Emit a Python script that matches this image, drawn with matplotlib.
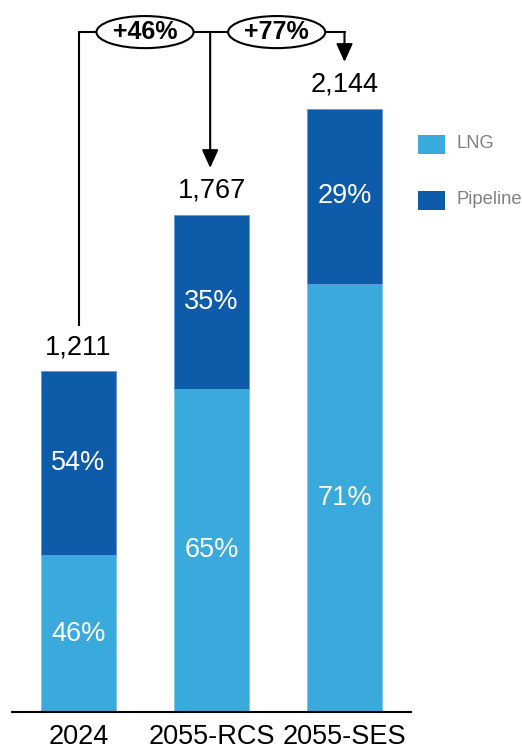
import matplotlib

matplotlib.use("Agg")
import matplotlib.pyplot as plt
from matplotlib.patches import Ellipse, Rectangle

plt.rcParams["font.family"] = ["Liberation Sans", "DejaVu Sans"]

CATEGORIES = ["2024", "2055-RCS", "2055-SES"]
TOTALS = [1211, 1767, 2144]
LNG_SHARE = [46, 65, 71]
PIPELINE_SHARE = [54, 35, 29]
GROWTH_LABELS = ["+46%", "+77%"]

LNG_COLOR = "#3AA9DC"
PIPE_COLOR = "#0D5BA9"


def main():
    fig = plt.figure(figsize=(5.22, 7.5), dpi=100)
    # axes spans the baseline; 1 data unit ~ 0.2813 px vertically
    ax = fig.add_axes([12 / 522, 38 / 750, 399 / 522, 712 / 750])
    ax.set_xlim(-0.5, 2.5)
    ax.set_ylim(0, 712 / 0.2813)

    xs = list(range(len(CATEGORIES)))
    lng = [t * s / 100 for t, s in zip(TOTALS, LNG_SHARE)]
    pipe = [t - l for t, l in zip(TOTALS, lng)]

    ax.bar(xs, lng, width=0.564, color=LNG_COLOR, edgecolor="#7FC3E8", linewidth=0.6)
    ax.bar(xs, pipe, bottom=lng, width=0.564, color=PIPE_COLOR, edgecolor="#5E9BD3", linewidth=0.6)

    for x, l, p, t, ls, ps in zip(xs, lng, pipe, TOTALS, LNG_SHARE, PIPELINE_SHARE):
        ax.text(x, l / 2, f"{ls}%", ha="center", va="center", color="white", fontsize=19.5)
        ax.text(x, l + p / 2, f"{ps}%", ha="center", va="center", color="white", fontsize=19.5)
        ax.text(x, t + 40, f"{t:,}", ha="center", va="bottom", color="black", fontsize=19.5)

    # growth brackets
    top = 2417
    ax.plot([xs[0], xs[0]], [TOTALS[0] + 161, top], color="black", lw=1.5,
            clip_on=False, solid_capstyle="butt")
    ax.plot([xs[0], xs[2]], [top, top], color="black", lw=1.5, clip_on=False)
    for x, t in zip(xs[1:], TOTALS[1:]):
        xa = x - 0.01 if x == 1 else x
        ax.annotate("", xy=(xa, t + 167), xytext=(xa, top),
                    arrowprops=dict(arrowstyle="-|>,head_length=1.1,head_width=0.5",
                                    color="black", lw=1.5, shrinkA=0, shrinkB=0),
                    annotation_clip=False)
    for cx, label in zip([0.5, 1.49], GROWTH_LABELS):
        ax.add_patch(Ellipse((cx, top), 0.73, 114, facecolor="white", edgecolor="black",
                             lw=1.5, clip_on=False, zorder=3))
        ax.text(cx, top, label, ha="center", va="center", fontsize=18,
                fontweight="bold", zorder=4)

    ax.set_xticks(xs)
    ax.set_xticklabels(CATEGORIES, fontsize=19.5)
    ax.tick_params(axis="x", length=0, pad=9)
    ax.set_yticks([])
    for side in ["top", "left", "right"]:
        ax.spines[side].set_visible(False)
    ax.spines["bottom"].set_linewidth(1.5)

    # legend
    for label, color, yc in [("LNG", LNG_COLOR, 144), ("Pipeline", PIPE_COLOR, 200)]:
        fig.add_artist(Rectangle((418 / 522, (750 - yc - 9.5) / 750), 27 / 522, 19 / 750,
                                 transform=fig.transFigure, facecolor=color, edgecolor="none"))
        fig.text(456 / 522, (750 - yc) / 750, label, ha="left", va="center",
                 fontsize=13.2, color="#808080")

    fig.savefig("out.png", dpi=100)


if __name__ == "__main__":
    main()
